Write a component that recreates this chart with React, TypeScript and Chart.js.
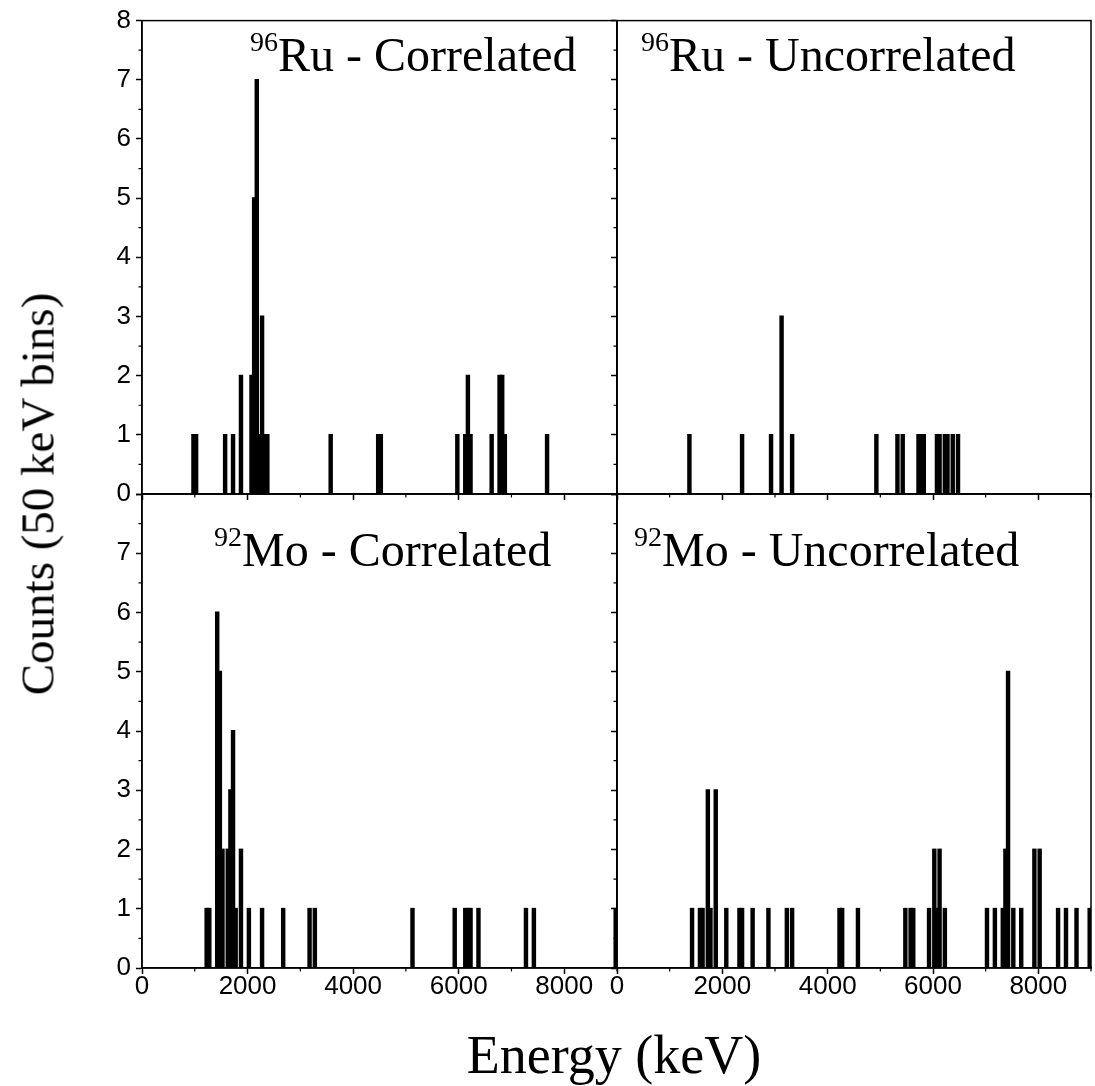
import React, { useEffect, useRef } from 'react';
import { Chart, registerables } from 'chart.js';

Chart.register(...registerables);

// ---- data (50 keV bins: bin start energy in keV, counts) ----
const BIN_WIDTH = 50;
const X_MAX = 9000;
const Y_MAX = 8;

const xMajorTicks = [0, 2000, 4000, 6000, 8000];
const xMinorTicks = [1000, 3000, 5000, 7000, 9000];
const yMinorTicks = [0.5, 1.5, 2.5, 3.5, 4.5, 5.5, 6.5, 7.5];

const ruCorrBins = [950, 1000, 1550, 1700, 1850, 2050, 2100, 2150, 2200, 2250, 2300, 2350, 3550, 4450, 4500, 5950, 6100, 6150, 6200, 6600, 6750, 6800, 6850, 7650];
const ruCorrCounts = [1, 1, 1, 1, 2, 2, 5, 7, 1, 3, 1, 1, 1, 1, 1, 1, 1, 2, 1, 1, 2, 2, 1, 1];

const ruUncBins = [1350, 2350, 2900, 3100, 3300, 4900, 5300, 5400, 5700, 5750, 5800, 6050, 6100, 6200, 6250, 6350, 6450];
const ruUncCounts = [1, 1, 1, 3, 1, 1, 1, 1, 1, 1, 1, 1, 1, 1, 1, 1, 1];

const moCorrBins = [1200, 1250, 1400, 1450, 1500, 1600, 1650, 1700, 1750, 1850, 2000, 2250, 2650, 3150, 3250, 5100, 5900, 6100, 6150, 6200, 6350, 7250, 7400, 8950];
const moCorrCounts = [1, 1, 6, 5, 2, 2, 3, 4, 1, 2, 1, 1, 1, 1, 1, 1, 1, 1, 1, 1, 1, 1, 1, 1];

const moUncBins = [1400, 1550, 1600, 1700, 1750, 1850, 2050, 2300, 2350, 2550, 2850, 3200, 3300, 4200, 4250, 4550, 5450, 5550, 5600, 5900, 6000, 6050, 6100, 6200, 7000, 7150, 7300, 7350, 7400, 7500, 7650, 7900, 8000, 8350, 8500, 8700, 8950];
const moUncCounts = [1, 1, 1, 3, 1, 3, 1, 1, 1, 1, 1, 1, 1, 1, 1, 1, 1, 1, 1, 1, 2, 1, 2, 1, 1, 1, 1, 2, 5, 1, 1, 2, 2, 1, 1, 1, 1];

const panelTitles = [
  { sup: '96', text: 'Ru - Correlated' },
  { sup: '96', text: 'Ru - Uncorrelated' },
  { sup: '92', text: 'Mo - Correlated' },
  { sup: '92', text: 'Mo - Uncorrelated' },
];
const yAxisTitle = 'Counts (50 keV bins)';
const xAxisTitle = 'Energy (keV)';

// ---- layout (page pixels) ----
const W = 1095;
const H = 1086;
const LEFT = 142;
const MID_X = 617;
const RIGHT = 1091;
const TOP = 20;
const MID_Y = 494;
const BOTTOM = 968;
const Y_AXIS_W = 40;
const X_AXIS_H = 40;

function buildPoints(bins: number[], counts: number[]) {
  const pts: { x: number; y: number | null }[] = [];
  for (let b = 0; b < X_MAX; b += BIN_WIDTH) {
    const i = bins.indexOf(b);
    pts.push({ x: b + BIN_WIDTH / 2, y: i >= 0 ? counts[i] : null });
  }
  return pts;
}

const panels = [
  { bins: ruCorrBins, counts: ruCorrCounts, left: LEFT, right: MID_X, top: TOP, bottom: MID_Y, showX: false, showY: true, hideTop: false, title: panelTitles[0], titleX: 250, titleBase: 71 },
  { bins: ruUncBins, counts: ruUncCounts, left: MID_X, right: RIGHT, top: TOP, bottom: MID_Y, showX: false, showY: false, hideTop: false, title: panelTitles[1], titleX: 641, titleBase: 71 },
  { bins: moCorrBins, counts: moCorrCounts, left: LEFT, right: MID_X, top: MID_Y, bottom: BOTTOM, showX: true, showY: true, hideTop: true, title: panelTitles[2], titleX: 214, titleBase: 566 },
  { bins: moUncBins, counts: moUncCounts, left: MID_X, right: RIGHT, top: MID_Y, bottom: BOTTOM, showX: true, showY: false, hideTop: true, title: panelTitles[3], titleX: 634, titleBase: 566 },
];

const framePlugin = {
  id: 'frameAndMinor',
  afterDraw(chart: any) {
    const { ctx, chartArea: a, scales } = chart;
    ctx.save();
    ctx.strokeStyle = '#000';
    ctx.lineWidth = 1.5;
    ctx.strokeRect(a.left, a.top, a.right - a.left, a.bottom - a.top);
    ctx.lineWidth = 1.2;
    ctx.beginPath();
    for (const v of xMinorTicks) {
      const px = scales.x.getPixelForValue(v);
      ctx.moveTo(px, a.bottom);
      ctx.lineTo(px, a.bottom + 3.5);
    }
    for (const v of yMinorTicks) {
      const py = scales.y.getPixelForValue(v);
      ctx.moveTo(a.left, py);
      ctx.lineTo(a.left - 3.5, py);
    }
    ctx.stroke();
    ctx.restore();
  },
};

function Panel({ p }: { p: (typeof panels)[number] }) {
  const ref = useRef<HTMLCanvasElement>(null);
  useEffect(() => {
    const chart = new Chart(ref.current!, {
      type: 'bar',
      data: {
        datasets: [
          {
            data: buildPoints(p.bins, p.counts) as any,
            backgroundColor: '#000',
            borderWidth: 0,
            barPercentage: 1,
            categoryPercentage: 1,
            inflateAmount: 0.9,
          } as any,
        ],
      },
      options: {
        responsive: false,
        animation: false,
        devicePixelRatio: 1,
        layout: {
          padding: {
            left: p.left - Y_AXIS_W,
            right: W - p.right,
            top: p.top,
            bottom: H - p.bottom - X_AXIS_H,
          },
        },
        plugins: { legend: { display: false }, tooltip: { enabled: false }, title: { display: false } },
        scales: {
          x: {
            type: 'linear',
            min: 0,
            max: X_MAX,
            offset: false,
            afterBuildTicks: (s: any) => {
              s.ticks = xMajorTicks.map((v) => ({ value: v }));
            },
            afterFit: (s: any) => {
              s.height = X_AXIS_H;
              s.paddingLeft = 0;
              s.paddingRight = 0;
            },
            grid: { display: true, offset: false, drawOnChartArea: false, drawTicks: true, tickLength: 6, tickWidth: 1.5, tickColor: '#000' },
            border: { display: true, color: '#000', width: 1.5 },
            ticks: {
              autoSkip: false,
              maxRotation: 0,
              padding: -3,
              color: '#000',
              font: { family: '"Liberation Sans", Arial, sans-serif', size: 26 },
              callback: (v: any) => (p.showX ? String(v) : ''),
            },
          },
          y: {
            type: 'linear',
            min: 0,
            max: Y_MAX,
            afterFit: (s: any) => {
              s.width = Y_AXIS_W;
            },
            grid: { display: true, drawOnChartArea: false, drawTicks: true, tickLength: 6, tickWidth: 1.5, tickColor: '#000' },
            border: { display: true, color: '#000', width: 1.5 },
            ticks: {
              stepSize: 1,
              autoSkip: false,
              padding: 5,
              color: '#000',
              font: { family: '"Liberation Sans", Arial, sans-serif', size: 26 },
              callback: (v: any) => (!p.showY ? '' : p.hideTop && v === Y_MAX ? '' : String(v)),
            },
          },
        },
      },
      plugins: [framePlugin],
    } as any);
    return () => chart.destroy();
  }, []);
  return (
    <canvas
      ref={ref}
      width={W}
      height={H}
      style={{ position: 'absolute', left: 0, top: 0, width: W, height: H, pointerEvents: 'none' }}
    />
  );
}

const serif = '"Liberation Serif", "Times New Roman", serif';
const TITLE_SIZE = 48;
const SUP_SIZE = 28;

export default function App() {
  return (
    <div style={{ position: 'absolute', left: 0, top: 0, width: W, height: H, background: '#fff', overflow: 'hidden' }}>
      {panels.map((p, i) => (
        <Panel key={i} p={p} />
      ))}
      {panels.map((p, i) => (
        <div
          key={'t' + i}
          style={{
            position: 'absolute',
            left: p.titleX,
            top: p.titleBase - 40,
            fontFamily: serif,
            fontSize: TITLE_SIZE,
            lineHeight: '48px',
            whiteSpace: 'nowrap',
            color: '#000',
          }}
        >
          <span style={{ fontSize: SUP_SIZE, position: 'relative', top: -20 }}>{p.title.sup}</span>
          {p.title.text}
        </div>
      ))}
      <div
        style={{
          position: 'absolute',
          left: 38,
          top: 494,
          transform: 'translate(-50%, -50%) rotate(-90deg)',
          fontFamily: serif,
          fontSize: 47,
          whiteSpace: 'nowrap',
          lineHeight: '47px',
          color: '#000',
        }}
      >
        {yAxisTitle}
      </div>
      <div
        style={{
          position: 'absolute',
          left: 614,
          top: 1055,
          transform: 'translate(-50%, -50%)',
          fontFamily: serif,
          fontSize: 54,
          whiteSpace: 'nowrap',
          lineHeight: '54px',
          color: '#000',
        }}
      >
        {xAxisTitle}
      </div>
    </div>
  );
}
